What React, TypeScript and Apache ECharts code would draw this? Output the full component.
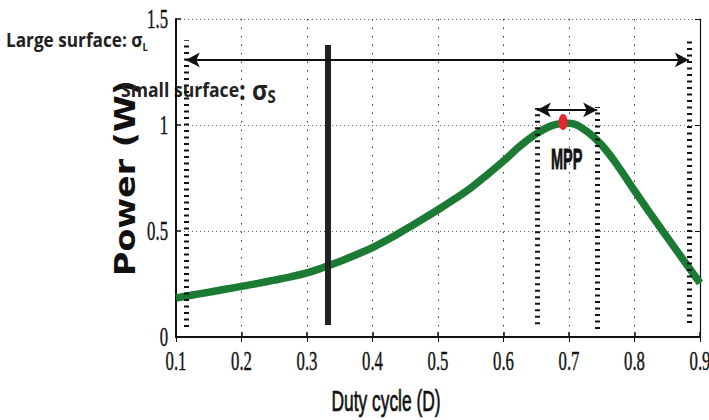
import React, { useEffect, useRef } from "react";
import * as echarts from "echarts";

// Duty cycle (D) vs Power (W)
const dutyCycle = [0.1, 0.125, 0.15, 0.175, 0.2, 0.225, 0.25, 0.275, 0.3, 0.325, 0.35, 0.375, 0.4, 0.425, 0.45, 0.475, 0.5, 0.525, 0.55, 0.575, 0.6, 0.625, 0.65, 0.675, 0.7, 0.725, 0.75, 0.775, 0.8, 0.825, 0.85, 0.875, 0.9];
const power = [0.184, 0.198, 0.211, 0.225, 0.239, 0.253, 0.268, 0.284, 0.302, 0.328, 0.356, 0.388, 0.422, 0.462, 0.507, 0.553, 0.6, 0.65, 0.703, 0.765, 0.83, 0.9, 0.958, 0.998, 1.008, 0.975, 0.905, 0.805, 0.69, 0.578, 0.47, 0.362, 0.255];

const xTicks = [0.1, 0.2, 0.3, 0.4, 0.5, 0.6, 0.7, 0.8, 0.9];
const xTickLabels = ["0.1", "0.2", "0.3", "0.4", "0.5", "0.6", "0.7", "0.8", "0.9"];
const yTicks = [0, 0.5, 1, 1.5];
const yTickLabels = ["0", "0.5", "1", "1.5"];

// annotations (data coordinates)
const mppPoint = [0.691, 1.014];
const mppLabelAt = [0.6965, 0.84];
const largeBounds = [0.115, 0.883];
const largeBoundsTop = [1.4, 1.415];
const largeBoundsBottom = [0.047, 0.066];
const largeArrowLevel = 1.307;
const smallBounds = [0.651, 0.743];
const smallBoundsTop = [1.08, 1.085];
const smallBoundsBottom = [0.06, 0.038];
const smallArrowLevel = 1.071;
const dutyMarker = 0.332;
const dutyMarkerRange = [0.057, 1.377];

const App: React.FC = () => {
  const ref = useRef<HTMLDivElement>(null);
  useEffect(() => {
    if (!ref.current) return;
    const chart = echarts.init(ref.current, undefined, { renderer: "svg" });
    const dash = { type: [2, 4.5] as any, width: 5, color: "#111", cap: "butt" as any };
    const option: any = {
      animation: false,
      grid: { left: 176, right: 9, top: 19, bottom: 83 },
      xAxis: [
        {
          type: "value", min: 0.1, max: 0.9, interval: 0.1, position: "bottom",
          axisLine: { show: true, lineStyle: { color: "#111", width: 2 } },
          axisTick: { show: true, inside: true, length: 5, lineStyle: { color: "#111", width: 1.5 } },
          axisLabel: { show: false },
          splitLine: { show: true, lineStyle: { type: [1.5, 7], color: "#333", width: 1 } },
        },
        {
          type: "value", min: 0.1, max: 0.9, interval: 0.1, position: "top",
          axisLine: { show: true, lineStyle: { color: "#111", width: 1.2 } },
          axisTick: { show: true, inside: true, length: 5, lineStyle: { color: "#111", width: 1 } },
          axisLabel: { show: false }, splitLine: { show: false },
        },
      ],
      yAxis: [
        {
          type: "value", min: 0, max: 1.5, interval: 0.5, position: "left",
          axisLine: { show: true, lineStyle: { color: "#111", width: 2 } },
          axisTick: { show: true, inside: true, length: 5, lineStyle: { color: "#111", width: 1.5 } },
          axisLabel: { show: false },
          splitLine: { show: true, lineStyle: { type: [1, 3], color: "#666", width: 1 } },
        },
        {
          type: "value", min: 0, max: 1.5, interval: 0.5, position: "right",
          axisLine: { show: true, lineStyle: { color: "#111", width: 1.2 } },
          axisTick: { show: true, inside: true, length: 5, lineStyle: { color: "#111", width: 1 } },
          axisLabel: { show: false }, splitLine: { show: false },
        },
      ],
      series: [
        {
          type: "line", data: [], z: 1, silent: true,
          markLine: {
            silent: true, symbol: ["none", "none"], label: { show: false }, animation: false,
            data: [
              [{ coord: [largeBounds[0], largeBoundsBottom[0]], lineStyle: dash }, { coord: [largeBounds[0], largeBoundsTop[0]] }],
              [{ coord: [largeBounds[1], largeBoundsBottom[1]], lineStyle: dash }, { coord: [largeBounds[1], largeBoundsTop[1]] }],
              [{ coord: [smallBounds[0], smallBoundsBottom[0]], lineStyle: dash }, { coord: [smallBounds[0], smallBoundsTop[0]] }],
              [{ coord: [smallBounds[1], smallBoundsBottom[1]], lineStyle: dash }, { coord: [smallBounds[1], smallBoundsTop[1]] }],
            ],
          },
        },
        {
          type: "line", name: "Power", z: 2, silent: true,
          data: dutyCycle.map((d, i) => [d, power[i]]),
          smooth: 0.4, showSymbol: false, symbol: "none",
          lineStyle: { color: "#1b7a33", width: 7.5 },
        },
        {
          type: "line", data: [], z: 3, silent: true,
          markLine: {
            silent: true, symbol: ["none", "none"], label: { show: false }, animation: false,
            data: [
              [{ coord: [dutyMarker, dutyMarkerRange[0]], lineStyle: { color: "#222", width: 6, type: "solid", cap: "butt" } }, { coord: [dutyMarker, dutyMarkerRange[1]] }],
              [
                { coord: [largeBounds[0], largeArrowLevel], symbol: "arrow", symbolSize: [11, 14], lineStyle: { color: "#111", width: 2, type: "solid" } },
                { coord: [largeBounds[1], largeArrowLevel], symbol: "arrow", symbolSize: [11, 14] },
              ],
              [
                { coord: [smallBounds[0], smallArrowLevel], symbol: "arrow", symbolSize: [11, 14], lineStyle: { color: "#111", width: 2, type: "solid" } },
                { coord: [smallBounds[1], smallArrowLevel], symbol: "arrow", symbolSize: [11, 14] },
              ],
            ],
          },
          markPoint: {
            silent: true, animation: false,
            data: [{ coord: mppPoint, symbol: "circle", symbolSize: [9, 16], itemStyle: { color: "#e8262c" }, label: { show: false } }],
          },
        },
      ],
    };
    chart.setOption(option);

    const toPx = (v: number[]) => chart.convertToPixel({ xAxisIndex: 0, yAxisIndex: 0 }, v) as number[];
    const tickFont = { fontFamily: "'Liberation Serif', serif", fontSize: 27, fill: "#111", stroke: "#111", lineWidth: 0.4 };
    const graphics: any[] = [];
    xTicks.forEach((t, i) => {
      const [px, py] = toPx([t, 0]);
      graphics.push({ type: "text", x: px, y: py + 24, scaleX: 0.62, style: { ...tickFont, text: xTickLabels[i], align: "center", verticalAlign: "middle" } });
    });
    yTicks.forEach((t, i) => {
      const [px, py] = toPx([0.1, t]);
      graphics.push({ type: "text", x: px - 8, y: py, scaleX: 0.62, style: { ...tickFont, text: yTickLabels[i], align: "right", verticalAlign: "middle" } });
    });
    const mppPx = toPx(mppLabelAt);
    graphics.push({ type: "text", x: mppPx[0], y: mppPx[1], scaleX: 0.5, style: { text: "MPP", fontFamily: "'Liberation Sans', sans-serif", fontWeight: "bold", fontSize: 29, fill: "#111", stroke: "#111", lineWidth: 0.8, align: "center", verticalAlign: "middle" } });
    graphics.push({ type: "text", x: 386, y: 401, scaleX: 0.6, style: { text: "Duty cycle (D)", fontFamily: "'Liberation Sans', sans-serif", fontSize: 29, fill: "#111", stroke: "#111", lineWidth: 0.7, align: "center", verticalAlign: "middle" } });
    graphics.push({ type: "text", x: 125, y: 178, rotation: Math.PI / 2, scaleX: 1.15, style: { text: "Power (W)", fontFamily: "'DejaVu Sans', sans-serif", fontWeight: "bold", fontSize: 29, fill: "#111", align: "center", verticalAlign: "middle" } });
    graphics.push({
      type: "text", x: 6, y: 52, scaleX: 0.86,
      style: {
        text: "{a|Large surface: σ}{b|L}", align: "left", verticalAlign: "bottom", fill: "#222",
        rich: {
          a: { fontFamily: "'Open Sans', sans-serif", fontWeight: "bold", fontSize: 20, verticalAlign: "bottom", padding: [0, 0, 3, 0], fill: "#222" },
          b: { fontFamily: "'Open Sans', sans-serif", fontWeight: "bold", fontSize: 11, verticalAlign: "bottom", fill: "#222" },
        },
      },
    });
    graphics.push({
      type: "text", x: 121, y: 105, scaleX: 0.88,
      style: {
        text: "{a|Small surface}{c|: σ}{b|S}", align: "left", verticalAlign: "bottom", fill: "#222",
        rich: {
          a: { fontFamily: "'Open Sans', sans-serif", fontWeight: "bold", fontSize: 20, verticalAlign: "bottom", padding: [0, 0, 5, 0], fill: "#222" },
          c: { fontFamily: "'Open Sans', sans-serif", fontWeight: "bold", fontSize: 27, verticalAlign: "bottom", padding: [0, 0, 2, 0], fill: "#222" },
          b: { fontFamily: "'Open Sans', sans-serif", fontWeight: "bold", fontSize: 17, verticalAlign: "bottom", fill: "#222" },
        },
      },
    });
    chart.setOption({ graphic: graphics });

    return () => chart.dispose();
  }, []);
  return <div ref={ref} style={{ width: 709, height: 420, position: "absolute", left: 0, top: 0 }} />;
};

export default App;
